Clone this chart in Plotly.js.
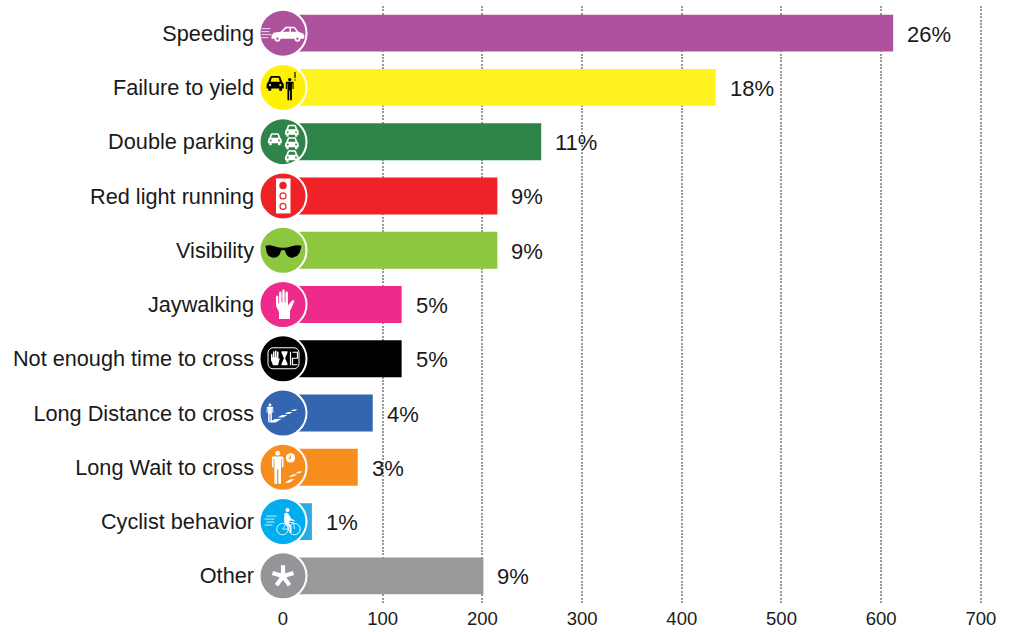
<!DOCTYPE html>
<html><head><meta charset="utf-8">
<script src="https://cdn.plot.ly/plotly-3.0.1.min.js"></script>
<style>html,body{margin:0;padding:0;background:#fff}#c{width:1011px;height:632px}</style></head>
<body><div id="c"></div>
<script>
const categories=["Speeding","Failure to yield","Double parking","Red light running","Visibility","Jaywalking","Not enough time to cross","Long Distance to cross","Long Wait to cross","Cyclist behavior","Other"];
const values=[612,434,259,215,215,119,119,90,75,29,201];
const percentLabels=["26%","18%","11%","9%","9%","5%","5%","4%","3%","1%","9%"];
const barColors=["#ae529e","#fff21f","#2e8449","#ee2227","#8dc63f","#ee2a8b","#000000","#3465b0","#f78d1f","#29abe2","#999999"];
const circleColors=["#ae529e","#fff200","#2e8449","#ee2227","#8dc63f","#ee2a8b","#000000","#3465b0","#f78d1f","#00aeef","#939598"];
const tickValues=[0,100,200,300,400,500,600,700];

/* front-view car pictogram */
const frontCar=(x,y,s,fill,glass)=>`<g transform="translate(${x} ${y}) scale(${s})"><path fill="${fill}" d="M2 5 L3.5 1 Q4 0 5 0 H11 Q12 0 12.5 1 L14 5 Q15.5 6 15.5 8 V11 H14 V13 H11.5 V11 H4.5 V13 H2 V11 H.5 V8 Q.5 6 2 5Z"/><path fill="${glass}" d="M4 5 L5 1.6 H11 L12 5Z"/><circle cx="3.5" cy="8" r="1" fill="${glass}"/><circle cx="12.5" cy="8" r="1" fill="${glass}"/></g>`;
const man=(x,y,s,fill)=>`<g transform="translate(${x} ${y}) scale(${s})" fill="${fill}"><circle cx="6" cy="2.4" r="2.4"/><path d="M1.5 5.6 H10.5 Q11.6 5.6 11.6 7 V16 H10 V8 H9.2 V32 H6.6 V18 H5.4 V32 H2.8 V8 H2 V16 H.4 V7 Q.4 5.6 1.5 5.6Z"/></g>`;
const icons=[
 `<g stroke="#fff" stroke-width=".8"><path d="M1 18H10M0 21H9M1 24H11M0 27H8"/></g><path fill="#fff" d="M11 25 L13 22 L20 21 L25 16 H34 L38 21 L43 23 L44 26 L43 28 H11Z"/><path fill="#ae529e" d="M22 21 L26 17.5 H29 V21Z M30.5 17.5 H33.5 L36 21 H30.5Z"/><circle cx="17" cy="28" r="3" fill="#fff"/><circle cx="37" cy="28" r="3" fill="#fff"/><circle cx="17" cy="28" r="1.2" fill="#ae529e"/><circle cx="37" cy="28" r="1.2" fill="#ae529e"/>`,
 frontCar(5.5,11,1.15,"#000","#fff200")+man(25,13,.7,"#000")+`<path d="M34.5 7 V13" stroke="#000" stroke-width="1.2"/><circle cx="34.5" cy="15" r=".7" fill="#000"/>`,
 frontCar(7,14,.92,"#fff","#2e8449")+frontCar(24,5.5,.92,"#fff","#2e8449")+frontCar(24,18,.92,"#fff","#2e8449")+frontCar(24,31,.92,"#fff","#2e8449"),
 `<rect x="15.5" y="5" width="14.5" height="35" fill="#fff"/><circle cx="22.5" cy="12" r="3.7" fill="#ee2227"/><circle cx="22.5" cy="22.5" r="3" fill="none" stroke="#ee2227" stroke-width="1.2"/><circle cx="22.5" cy="33" r="3" fill="none" stroke="#ee2227" stroke-width="1.2"/>`,
 `<path fill="#000" d="M5 18 Q8 17 14 18.5 Q18 20 22.5 20 Q27 20 31 18.5 Q37 17 41 18 L40 22 Q39 29 32 30 Q26 30 24.5 23 Q22.5 21.5 20.5 23 Q19 30 13 30 Q6 29 5.6 22Z"/>`,
 `<path fill="#fff" d="M18.5 37 V30 L15.5 24 V15 Q15.5 13.5 16.7 13.5 Q17.8 13.5 17.8 15 V21 H18.6 V11 Q18.6 9.6 19.8 9.6 Q21 9.6 21 11 V20.5 H21.8 V9 Q21.8 7.6 23 7.6 Q24.2 7.6 24.2 9 V20.5 H25 V11 Q25 9.6 26.2 9.6 Q27.4 9.6 27.4 11 V23.5 L31.5 18.6 Q33 17.6 34 19 L29.5 29 V37Z"/>`,
 `<rect x="7.5" y="11.5" width="31" height="21" rx="5" fill="none" stroke="#fff" stroke-width="1"/><path fill="#fff" d="M12.5 29 L10.5 24 V18 Q11.5 17 12 18 V21 H12.5 V15.5 Q13.3 14.7 14 15.5 V21 H14.5 V14.5 Q15.2 13.8 16 14.5 V21 H16.5 V15.5 Q17.2 14.8 18 15.5 V23 L19.5 21.5 L17.5 29Z"/><path fill="#fff" d="M21 15 H27 V16.5 L24.6 22 L27 27.5 V29 H21 V27.5 L23.4 22 L21 16.5Z"/><path fill="none" stroke="#fff" stroke-width="1.2" d="M30 15.5 V29 M32 16 H37 V22 H32 V28.5 H37"/>`,
 man(6,13,.58,"#fff")+`<path fill="#fff" d="M8 32 L14.5 28.5 H21 L15 32Z M17 27 L21.5 24.5 H27 L22.5 27Z M24 23.5 L27.5 21.5 H32 L29 23.5Z M30 20.5 L33 19 H37 L34.5 20.5Z"/>`,
 man(11,6,1.03,"#fff")+`<circle cx="30" cy="13" r="4.7" fill="#fff"/><path d="M30 10.5 V13.4 H27.8" stroke="#f78d1f" stroke-width="1" fill="none"/><path fill="#fff" d="M24 38 L30 34.5 H34 L28.5 38Z M28 32 L33 29.5 H37 L32 32Z M35 28.5 L38 26.8 H42 L39 28.5Z"/>`,
 `<path stroke="#fff" stroke-width=".8" d="M6 17H16M4 20H14M6 23H14M4 26H12"/><circle cx="27" cy="11" r="2" fill="#fff"/><path fill="#fff" d="M24 14 Q27 13 28 15 L31 20 L34 21 V22.3 L29.5 21.5 L28 24 L31 27 V34 H29.5 V28 L24.5 25 Q23 23 24 14Z"/><circle cx="22" cy="30" r="5.7" fill="none" stroke="#fff" stroke-width=".9"/><circle cx="34" cy="30" r="5.7" fill="none" stroke="#fff" stroke-width=".9"/><path d="M22 30 L27 23.5 L33 23.5 L34 30 M27 23.5 L28 30 H22" stroke="#fff" stroke-width=".8" fill="none"/>`,
 `<path stroke="#fff" stroke-width="4.2" stroke-linecap="butt" d="M22.5 23 V12 M22.5 23 L33 19.6 M22.5 23 L29 32 M22.5 23 L16 32 M22.5 23 L12 19.6"/>`
];

const plotWidthPx=728, bandPx=54.3, iconPx=45;
const images=categories.map((c,i)=>({
  source:"data:image/svg+xml;charset=utf-8,"+encodeURIComponent(`<svg xmlns="http://www.w3.org/2000/svg" width="180" height="180" viewBox="0 0 45 45">${icons[i]}</svg>`),
  xref:"paper",yref:"y",x:0,y:c,sizex:iconPx/plotWidthPx,sizey:iconPx/bandPx,xanchor:"center",yanchor:"middle",sizing:"stretch",layer:"above"
}));
const annotations=categories.map((c,i)=>({
  x:values[i],y:c,xref:"x",yref:"y",text:percentLabels[i],showarrow:false,xanchor:"left",yanchor:"middle",xshift:12,yshift:-1,
  font:{family:"Liberation Sans, Arial, sans-serif",size:22,color:"#1a1a1a"}
}));
const traces=[
 {type:"bar",orientation:"h",y:categories,x:values,marker:{color:barColors,line:{width:0}},hoverinfo:"x+y",showlegend:false},
 {type:"scatter",mode:"markers",y:categories,x:categories.map(()=>0),cliponaxis:false,hoverinfo:"skip",showlegend:false,
  marker:{symbol:"circle",size:47,color:circleColors,line:{color:"#fff",width:2}}}
];
const layout={
 width:1011,height:632,margin:{l:283,r:0,t:5.5,b:28.9,pad:0},paper_bgcolor:"#fff",plot_bgcolor:"#fff",bargap:0.32,showlegend:false,
 font:{family:"Liberation Sans, Arial, sans-serif",color:"#1a1a1a"},
 xaxis:{range:[0,730.2],tickmode:"array",tickvals:tickValues,ticktext:tickValues.map(String),showgrid:true,gridcolor:"#999999",gridwidth:2.2,griddash:"2px,1.4px",zeroline:false,showline:false,ticks:"",tickfont:{size:18.5,color:"#1a1a1a"},ticklabelstandoff:2},
 yaxis:{type:"category",categoryorder:"array",categoryarray:categories,range:[10.5,-0.5],showgrid:false,zeroline:false,showline:false,ticks:"",ticklabelstandoff:28,tickfont:{size:21.7,color:"#1a1a1a"}},
 images:images,annotations:annotations
};
Plotly.newPlot("c",traces,layout,{displayModeBar:false,responsive:false});
</script></body></html>
